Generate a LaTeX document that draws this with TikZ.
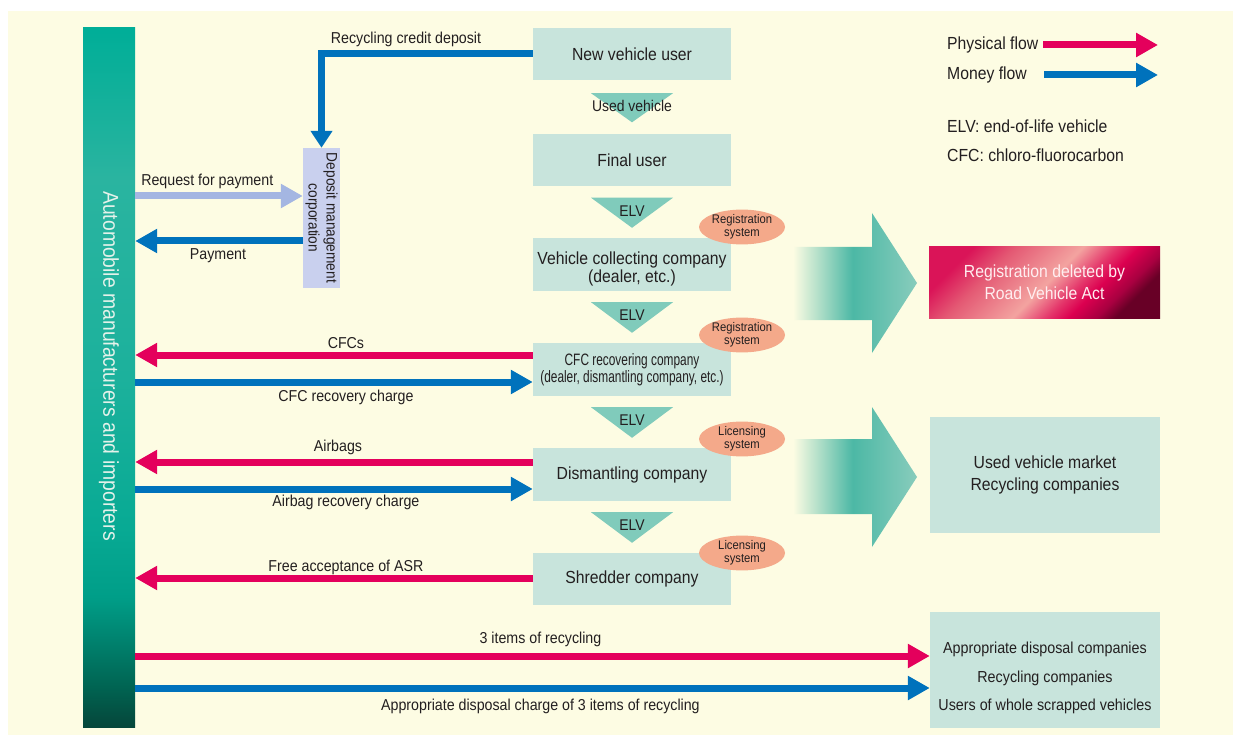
\documentclass[tikz,border=0pt]{standalone}
\usepackage{fontspec}
\setmainfont{Liberation Sans}[FakeStretch=0.9]
\newfontfamily\condensedfont{Liberation Sans}[FakeStretch=0.72]
\usetikzlibrary{arrows.meta,calc,shapes.geometric}

\definecolor{paper}{HTML}{FDFCE3}
\definecolor{ink}{HTML}{231F20}
\definecolor{boxfill}{HTML}{C8E4DC}
\definecolor{elvfill}{HTML}{80CBBB}
\definecolor{physred}{HTML}{E4005C}
\definecolor{moneyblue}{HTML}{0072BC}
\definecolor{reqblue}{HTML}{A4B6E2}
\definecolor{depfill}{HTML}{C9D0EE}
\definecolor{ovalfill}{HTML}{F4A98A}
\definecolor{bigteal}{HTML}{4CB8A5}
\definecolor{bigtip}{HTML}{88CCBC}
\definecolor{bartext}{HTML}{E4F2EA}
\definecolor{regtext}{HTML}{FFEEF0}
% left bar greens, bottom to top
\definecolor{barDark}{HTML}{05463A}
\definecolor{barDeep}{HTML}{006452}
\definecolor{barLow}{HTML}{008470}
\definecolor{barMid}{HTML}{009E88}
\definecolor{barSoft}{HTML}{08AA94}
\definecolor{barPale}{HTML}{1CB19C}
\definecolor{barPaler}{HTML}{2AB4A0}
\definecolor{barRich}{HTML}{10B09A}
\definecolor{barTop}{HTML}{00AE98}
% registration box pinks
\definecolor{rdA}{HTML}{DA1458}
\definecolor{rdB}{HTML}{E45A74}
\definecolor{rdC}{HTML}{F3A3A0}
\definecolor{rdD}{HTML}{E4356A}
\definecolor{rdE}{HTML}{DC0050}
\definecolor{rdF}{HTML}{A80040}
\definecolor{rdG}{HTML}{680026}

\pgfdeclareverticalshading{barshade}{100bp}{color(0bp)=(barDark); color(25bp)=(barDark); color(27.9bp)=(barDeep); color(31.4bp)=(barLow); color(34.3bp)=(barMid); color(39.3bp)=(barSoft); color(50bp)=(barPale); color(64.3bp)=(barPaler); color(70.8bp)=(barRich); color(75bp)=(barTop); color(100bp)=(barTop)}
\pgfdeclarehorizontalshading{regshade}{100bp}{color(0bp)=(rdA); color(25bp)=(rdA); color(34.9bp)=(rdB); color(50.7bp)=(rdC); color(58.9bp)=(rdD); color(63.9bp)=(rdE); color(70.5bp)=(rdF); color(75bp)=(rdG); color(100bp)=(rdG)}
\pgfdeclarehorizontalshading{bigarrowshade}{100bp}{color(0bp)=(paper); color(25bp)=(paper); color(49bp)=(bigteal); color(75bp)=(bigtip); color(100bp)=(bigtip)}

\begin{document}
\begin{tikzpicture}[x=1pt,y=-1pt,
  flowbox/.style={fill=boxfill, minimum width=198pt, minimum height=52pt, inner sep=0pt, align=center, text=ink, font=\fontsize{17.5}{18}\selectfont},
  sidebox/.style={fill=boxfill, minimum width=230pt, minimum height=116pt, inner sep=0pt, align=center, text=ink},
  regoval/.style={ellipse, fill=ovalfill, minimum width=86pt, minimum height=33pt, inner sep=0pt, align=center, text=ink, font=\fontsize{12.5}{13}\selectfont},
  lbl/.style={inner sep=0pt, text=ink, font=\fontsize{15.8}{17}\selectfont},
  trilbl/.style={inner sep=0pt, text=ink, font=\fontsize{15.5}{17}\selectfont},
  legendtext/.style={inner sep=0pt, anchor=west, text=ink, font=\fontsize{17.5}{18}\selectfont},
  flowline/.style={line width=7pt},
  phys/.style={flowline, draw=physred, -{Triangle[length=22pt,width=23pt]}},
  money/.style={flowline, draw=moneyblue, -{Triangle[length=22pt,width=23pt]}},
  request/.style={flowline, draw=reqblue, -{Triangle[length=22pt,width=23pt]}},
]
\useasboundingbox (0,0) rectangle (1233,735);
\fill[white] (0,0) rectangle (1233,735);
\fill[paper] (8,11) rectangle (1233,735);

% left bar: manufacturers and importers
\node[shade, shading=barshade, minimum width=52pt, minimum height=699pt, inner sep=0pt] (bar) at (109,377.5) {};
\node[rotate=-90, inner sep=0pt, text=bartext, font=\fontsize{21.5}{24}\selectfont] (bartxt) at (109,366) {Automobile manufacturers and importers};

% central chain of companies
\node[flowbox] (newuser) at (632,54) {New vehicle user};
\node[flowbox] (final) at (632,160.5) {Final user};
\node[flowbox, minimum height=53pt] (collect) at (632,264.5) {};
\node[inner sep=0pt, align=center, text=ink, font=\fontsize{17.5}{18}\selectfont] (collecttxt) at (632,268.5) {Vehicle collecting company\\(dealer, etc.)};
\node[flowbox, minimum height=53pt, font=\condensedfont\fontsize{16.5}{17}\selectfont] (cfc) at (632,369.5) {CFC recovering company\\(dealer, dismantling company, etc.)};
\node[flowbox, minimum height=53pt] (dis) at (632,474.5) {Dismantling company};
\node[flowbox] (shred) at (632,579) {Shredder company};

% ELV triangles between the companies
\foreach \a/\b/\t/\g/\h in {newuser/final/Used vehicle/13/12, final/collect/ELV/11/10, collect/cfc/ELV/11/10, cfc/dis/ELV/11/10, dis/shred/ELV/11/10} {
  \fill[elvfill] ($(\a.south)+(-41,\g)$) -- ($(\a.south)+(41,\g)$) -- ($(\b.north)+(0,-\h)$) -- cycle;
  \node[trilbl] (tri-\a) at ($(\a.south)+(0,\g+13)$) {\t};
}

% system ovals
\node[regoval] (ov1) at (742,227) {Registration\\system};
\node[regoval] (ov2) at (742,335) {Registration\\system};
\node[regoval] (ov3) at (742,439) {Licensing\\system};
\node[regoval] (ov4) at (742,553) {Licensing\\system};

% deposit management corporation
\node[fill=depfill, minimum width=37pt, minimum height=140pt, inner sep=0pt] (deposit) at (321.5,218) {};
\node[rotate=-90, inner sep=0pt, align=center, text=ink, font=\fontsize{15.2}{18}\selectfont] (deptxt) at (deposit.center) {Deposit management\\corporation};

% big transition arrows
\shade[shading=bigarrowshade] (793,247) -- (872,247) -- (872,213) -- (917,283) -- (872,353) -- (872,320) -- (793,320) -- cycle;
\shade[shading=bigarrowshade] (793,439) -- (872,439) -- (872,407) -- (917,477) -- (872,547) -- (872,514) -- (793,514) -- cycle;

% right-hand destinations
\node[shade, shading=regshade, shading angle=-45, minimum width=231pt, minimum height=71pt, inner sep=0pt, align=center, text=regtext, font=\fontsize{17.5}{22}\selectfont] (regdel) at (1044.5,282.5) {Registration deleted by\\Road Vehicle Act};
\node[sidebox, font=\fontsize{17.5}{22}\selectfont] (usedmkt) at (1045,475) {Used vehicle market\\Recycling companies};
\node[sidebox] (disp) at (1045,670) {};
\node[inner sep=0pt, align=center, text=ink, font=\fontsize{15.9}{28.5}\selectfont] (disptxt) at (1045,678) {Appropriate disposal companies\\Recycling companies\\Users of whole scrapped vehicles};

% flow rows
\coordinate (yReq) at (0,196);
\coordinate (yPay) at (0,241);
\coordinate (yCfc) at (0,355);
\coordinate (yCfcChg) at (0,382);
\coordinate (yAir) at (0,462);
\coordinate (yAirChg) at (0,489);
\coordinate (yAsr) at (0,578);
\coordinate (yItems) at (0,656);
\coordinate (yDisp) at (0,688);

% money into the deposit corporation
\draw[flowline, draw=moneyblue, -{Triangle[length=17pt,width=21pt]}] (newuser.west) -| (deposit.north)
  node[lbl, pos=0.3, yshift=15pt] {Recycling credit deposit};
\draw[request] (bar.east |- yReq) -- (deposit.west |- yReq)
  node[lbl, pos=0.43, yshift=15pt] {Request for payment};
\draw[money] (deposit.west |- yPay) -- (bar.east |- yPay)
  node[lbl, pos=0.506, yshift=-15pt] {Payment};

% CFCs
\draw[phys] (cfc.west |- yCfc) -- (bar.east |- yCfc)
  node[lbl, pos=0.47, yshift=12pt] {CFCs};
\draw[money] (bar.east |- yCfcChg) -- (cfc.west |- yCfcChg)
  node[lbl, pos=0.53, yshift=-15pt] {CFC recovery charge};

% airbags
\draw[phys] (dis.west |- yAir) -- (bar.east |- yAir)
  node[lbl, pos=0.49, yshift=15pt] {Airbags};
\draw[money] (bar.east |- yAirChg) -- (dis.west |- yAirChg)
  node[lbl, pos=0.53, yshift=-13pt] {Airbag recovery charge};

% shredder residue
\draw[phys] (shred.west |- yAsr) -- (bar.east |- yAsr)
  node[lbl, pos=0.47, yshift=11pt] {Free acceptance of ASR};

% three items of recycling
\draw[phys] (bar.east |- yItems) -- (disp.west |- yItems)
  node[lbl, pos=0.51, yshift=17pt] {3 items of recycling};
\draw[money] (bar.east |- yDisp) -- (disp.west |- yDisp)
  node[lbl, pos=0.51, yshift=-18pt] {Appropriate disposal charge of 3 items of recycling};

% legend
\node[legendtext] (lphys) at (947,45) {Physical flow};
\node[legendtext] (lmoney) at (947,75) {Money flow};
\coordinate (lend) at (1158,0);
\draw[phys] ([xshift=5pt]lphys.east) -- (lphys.east -| lend);
\draw[money] ([xshift=17pt]lmoney.east) -- (lmoney.east -| lend);
\node[legendtext] (lelv) at (947,126) {ELV: end-of-life vehicle};
\node[legendtext] (lcfc) at (947,155) {CFC: chloro-fluorocarbon};
\end{tikzpicture}
\end{document}
